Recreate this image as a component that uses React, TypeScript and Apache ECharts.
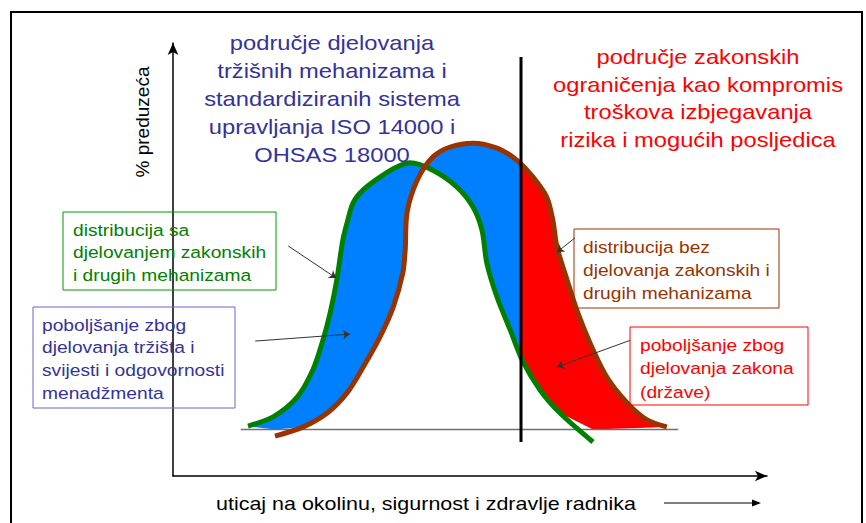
import React, { useEffect, useRef } from "react";
import * as echarts from "echarts";

// Curve with legal and other mechanisms (green), [x, y]
const greenCurve: number[][] = [
  [12.5, 0.9], [16.7, 3.3], [20.7, 8.4], [23.3, 15.4], [25.0, 23.2], [26.2, 30.2],
  [27.3, 38.7], [28.3, 49.0], [29.0, 53.4], [30.0, 58.6], [31.7, 62.0], [34.5, 65.3],
  [37.3, 67.9], [39.5, 69.0], [43.3, 67.1], [47.3, 62.8], [50.0, 57.6], [51.5, 51.6],
  [52.3, 43.1], [54.0, 34.3], [56.2, 25.8], [58.2, 18.0], [61.2, 10.2], [64.5, 4.3],
  [70.0, -3.2],
];
// Curve without legal and other mechanisms (brown), [x, y]
const brownCurve: number[][] = [
  [17.0, -1.7], [21.7, 0.7], [25.7, 4.3], [29.0, 9.5], [31.7, 16.2], [34.5, 24.0],
  [36.7, 31.7], [38.3, 40.5], [38.7, 46.5], [39.0, 56.1], [40.7, 64.5], [43.3, 70.5],
  [46.2, 73.1], [50.0, 74.1], [54.0, 72.8], [57.3, 69.7], [60.0, 65.3], [62.3, 60.1],
  [63.3, 54.2], [64.0, 47.2], [65.7, 38.6], [67.3, 30.9], [69.5, 22.4], [72.3, 13.6],
  [75.7, 6.9], [79.0, 2.5], [82.3, 0.7],
];
const legalLimitX = 58;
const legalLimitLine: number[][] = [[58, -3.2], [58, 96.4]];
const baseLine: number[][] = [[11.3, 0], [84.2, 0]];
// annotation arrows: [from, to]
const arrows: number[][][] = [
  [[19.2, 47.5], [27.2, 39.2]],
  [[13.7, 22.9], [29.5, 24.7]],
  [[67.0, 49.6], [64.0, 45.9]],
  [[76.2, 23.1], [64.0, 16.2]],
];

const blueTitle = [
  "područje djelovanja",
  "tržišnih mehanizama i",
  "standardiziranih sistema",
  "upravljanja ISO 14000 i",
  "OHSAS 18000",
];
const redTitle = [
  "područje zakonskih",
  "ograničenja kao kompromis",
  "troškova izbjegavanja",
  "rizika i mogućih posljedica",
];
const greenBox = ["distribucija sa", "djelovanjem zakonskih", "i drugih mehanizama"];
const blueBox = ["poboljšanje zbog", "djelovanja tržišta i", "svijesti i odgovornosti", "menadžmenta"];
const brownBox = ["distribucija bez", "djelovanja zakonskih i", "drugih mehanizama"];
const redBox = ["poboljšanje zbog", "djelovanja zakona", "(države)"];
const xAxisName = "uticaj na okolinu, sigurnost i zdravlje radnika";
const yAxisName = "% preduzeća";

function yAt(c: number[][], x: number): number {
  for (let i = 0; i < c.length - 1; i++) {
    if (c[i][0] <= x && c[i + 1][0] >= x) {
      const t = (x - c[i][0]) / (c[i + 1][0] - c[i][0]);
      return c[i][1] + t * (c[i + 1][1] - c[i][1]);
    }
  }
  return 0;
}
const clip = (p: number[]) => [p[0], Math.max(0, p[1])];
const bluePoly = [
  ...greenCurve.filter((p) => p[0] < legalLimitX),
  [legalLimitX, yAt(greenCurve, legalLimitX)],
  [legalLimitX, yAt(brownCurve, legalLimitX)],
  ...brownCurve.filter((p) => p[0] < legalLimitX).reverse(),
].map(clip);
const redPoly = [
  [legalLimitX, yAt(greenCurve, legalLimitX)],
  ...greenCurve.filter((p) => p[0] > legalLimitX),
  ...brownCurve.filter((p) => p[0] > legalLimitX).reverse(),
  [legalLimitX, yAt(brownCurve, legalLimitX)],
].map(clip);

const FONT = "Liberation Sans, Arial, sans-serif";
const SX = 1.13;

function lines(texts: string[], x: number, y0: number, dy: number, size: number, color: string, align: string) {
  return texts.map((t, i) => ({
    type: "text",
    x,
    y: y0 + i * dy,
    scaleX: SX,
    z: 50,
    style: {
      text: t,
      fill: color,
      font: `${size}px ${FONT}`,
      textAlign: align,
      textVerticalAlign: "middle",
    },
  }));
}

function box(x: number, y: number, w: number, h: number, color: string) {
  return {
    type: "rect",
    z: 40,
    shape: { x, y, width: w, height: h },
    style: { fill: "none", stroke: color, lineWidth: 1 },
  };
}

export default function App() {
  const ref = useRef<HTMLDivElement>(null);
  useEffect(() => {
    if (!ref.current) return;
    const chart = echarts.init(ref.current, null, { renderer: "svg" });
    const polySeries = (poly: number[][], color: string) => ({
      type: "custom",
      silent: true,
      z: 1,
      data: [[0, 0]],
      renderItem: (_p: any, api: any) => ({
        type: "polygon",
        shape: { points: poly.map((pt) => api.coord(pt)) },
        style: { fill: color },
      }),
    });
    const option: any = {
      animation: false,
      backgroundColor: "#ffffff",
      grid: { left: 173, top: 43, width: 594, height: 433 },
      xAxis: {
        type: "value",
        min: 0,
        max: 99,
        splitLine: { show: false },
        axisTick: { show: false },
        axisLabel: { show: false },
        axisLine: {
          show: true,
          onZero: false,
          symbol: ["none", "arrow"],
          symbolSize: [8, 12],
          lineStyle: { color: "#000", width: 1.5 },
        },
      },
      yAxis: {
        type: "value",
        min: -12,
        max: 100,
        splitLine: { show: false },
        axisTick: { show: false },
        axisLabel: { show: false },
        axisLine: {
          show: true,
          onZero: false,
          symbol: ["none", "arrow"],
          symbolSize: [8, 12],
          lineStyle: { color: "#000", width: 1.5 },
        },
      },
      series: [
        polySeries(bluePoly, "#0080ff"),
        polySeries(redPoly, "#ff0000"),
        {
          type: "line",
          data: baseLine,
          symbol: "none",
          z: 2,
          lineStyle: { color: "#707070", width: 1.5 },
          markLine: {
            silent: true,
            symbol: ["none", "arrow"],
            symbolSize: 7,
            label: { show: false },
            lineStyle: { color: "#333", width: 1, type: "solid" },
            data: arrows.map((a) => [{ coord: a[0] }, { coord: a[1] }]),
          },
        },
        {
          type: "line",
          data: greenCurve,
          symbol: "none",
          smooth: 0.3,
          z: 3,
          lineStyle: { color: "#008000", width: 5 },
        },
        {
          type: "line",
          data: brownCurve,
          symbol: "none",
          smooth: 0.3,
          z: 3,
          lineStyle: { color: "#993300", width: 5 },
        },
        {
          type: "line",
          data: legalLimitLine,
          symbol: "none",
          z: 4,
          lineStyle: { color: "#000", width: 3 },
        },
      ],
      graphic: [
        {
          type: "rect",
          z: 30,
          shape: { x: 11, y: 12, width: 851, height: 530 },
          style: { fill: "none", stroke: "#000", lineWidth: 2 },
        },
        ...lines(blueTitle, 332, 43, 28, 21, "#333399", "center"),
        ...lines(redTitle, 698, 57, 27.7, 21, "#ff0000", "center"),
        box(63, 212, 213, 78, "#009900"),
        ...lines(greenBox, 73, 230, 22.5, 17, "#008000", "left"),
        box(33, 307, 202, 101, "#6666cc"),
        ...lines(blueBox, 42, 325, 22.7, 17, "#333399", "left"),
        box(574, 229, 205, 79, "#993300"),
        ...lines(brownBox, 583, 247, 23, 17, "#993300", "left"),
        box(630, 327, 178, 78, "#ff0000"),
        ...lines(redBox, 640, 345, 23.5, 17, "#ff0000", "left"),
        {
          type: "text",
          x: 426,
          y: 503,
          scaleX: SX,
          z: 50,
          style: {
            text: xAxisName,
            fill: "#000",
            font: `19px ${FONT}`,
            textAlign: "center",
            textVerticalAlign: "middle",
          },
        },
        {
          type: "text",
          x: 142,
          y: 122,
          rotation: Math.PI / 2,
          z: 50,
          style: {
            text: yAxisName,
            fill: "#000",
            font: `19px ${FONT}`,
            textAlign: "center",
            textVerticalAlign: "middle",
          },
        },
        {
          type: "line",
          z: 50,
          shape: { x1: 664, y1: 503, x2: 754, y2: 503 },
          style: { stroke: "#000", lineWidth: 1.2 },
        },
        {
          type: "polygon",
          z: 50,
          shape: { points: [[752, 499.5], [761, 503], [752, 506.5]] },
          style: { fill: "#000" },
        },
      ],
    };
    chart.setOption(option);
    return () => chart.dispose();
  }, []);
  return (
    <div
      ref={ref}
      style={{ position: "fixed", left: 0, top: 0, width: 866, height: 523, background: "#fff" }}
    />
  );
}
